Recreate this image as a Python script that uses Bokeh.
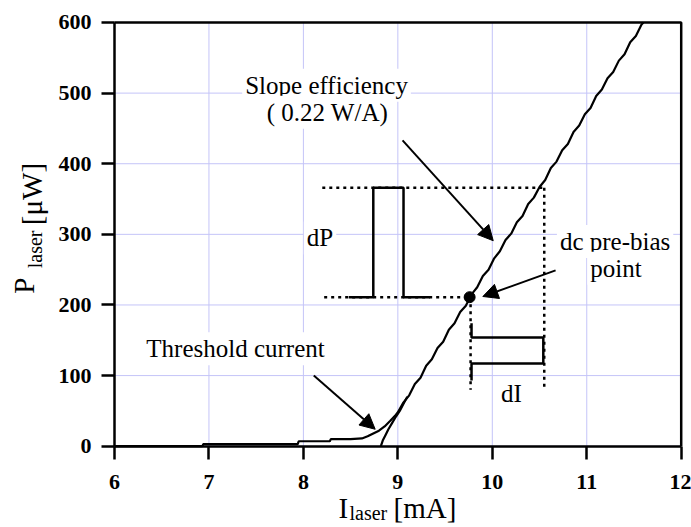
import math
from bokeh.plotting import figure
from bokeh.models import Label, Arrow, NormalHead, Range1d, FixedTicker
from bokeh.embed import file_html
from bokeh.resources import INLINE

# ---- data ----
x_ticks = [6, 7, 8, 9, 10, 11, 12]
y_ticks = [0, 100, 200, 300, 400, 500, 600]

# measured L-I curve (mA, uW)
curve_i = [6.00, 6.93, 6.94, 7.94, 7.95, 8.28, 8.29, 8.50, 8.62, 8.68, 8.74, 8.80, 8.86,
           8.92, 8.97, 9.00, 9.06, 9.12, 9.18, 9.24, 9.30, 9.36, 9.42, 9.48, 9.54, 9.60,
           9.66, 9.72, 9.78, 9.84, 9.90, 9.96, 10.02, 10.08, 10.14, 10.20, 10.26, 10.32,
           10.38, 10.44, 10.50, 10.56, 10.62, 10.68, 10.74, 10.80, 10.86, 10.92, 10.98,
           11.04, 11.10, 11.16, 11.22, 11.28, 11.34, 11.40, 11.46, 11.52, 11.58, 11.60]
curve_p = [0, 0, 3, 3, 7, 7, 10, 10, 11, 14, 18, 22, 28,
           36, 43, 48, 62, 72, 88, 97, 114, 123, 139, 148, 165, 174,
           190, 199, 215, 225, 241, 250, 266, 276, 292, 301, 317, 326,
           343, 352, 367, 377, 394, 403, 419, 428, 445, 454, 470,
           479, 496, 505, 521, 530, 546, 555, 572, 581, 597, 600]

# second trace starting at threshold
branch_i = [8.82, 8.84, 8.87, 8.90, 8.94, 8.98, 9.02, 9.06, 9.10]
branch_p = [0, 8, 16, 24, 33, 42, 50, 60, 70]

# dc pre-bias point
bias_i = [9.76]
bias_p = [211]

# modulation pulses
dp_pulse_i = [8.48, 8.74, 8.74, 9.06, 9.06, 9.34]
dp_pulse_p = [211, 211, 366, 366, 211, 211]
di_pulse_i = [9.78, 9.78, 10.54, 10.54, 9.78, 9.78]
di_pulse_p = [174, 154, 154, 117, 117, 93]

# dotted guide lines
top_guide_i = [8.20, 10.54]
top_guide_p = [366, 366]
low_guide_i = [8.22, 9.76]
low_guide_p = [211, 211]
vleft_guide_i = [9.77, 9.77]
vleft_guide_p = [211, 80]
vright_guide_i = [10.55, 10.55]
vright_guide_p = [366, 80]

SERIF = "Liberation Serif"
X0, X1 = x_ticks[0], x_ticks[-1]
Y0, Y1 = y_ticks[0], y_ticks[-1]

# The frame spans the whole canvas; the axes are pinned at I=6 and P=0 so that
# the axis titles (with subscripts) can be drawn as unclipped labels.
p = figure(width=691, height=527, output_backend="svg", toolbar_location=None,
           x_range=Range1d(4.793, 12.109), y_range=Range1d(-115.13, 631.15),
           min_border=0)
p.background_fill_color = "white"
p.border_fill_color = "white"
p.outline_line_color = None
p.grid.visible = False

p.xaxis.fixed_location = Y0
p.yaxis.fixed_location = X0
p.xaxis.bounds = (X0, X1)
p.yaxis.bounds = (Y0, Y1)
for ax, ticks in ((p.xaxis, x_ticks), (p.yaxis, y_ticks)):
    ax.ticker = FixedTicker(ticks=ticks)
    ax.axis_line_width = 2.5
    ax.axis_line_color = "black"
    ax.major_tick_line_width = 2.5
    ax.major_tick_line_color = "black"
    ax.major_tick_out = 13
    ax.major_tick_in = 0
    ax.minor_tick_line_color = None
    ax.major_label_text_font = SERIF
    ax.major_label_text_font_style = "bold"
    ax.major_label_text_font_size = "22px"
    ax.major_label_text_color = "black"
    ax.major_label_standoff = 10
p.xaxis.major_label_standoff = 16

GRID = "#c4c4f8"
# grid lines at the ticks
p.segment(x0=x_ticks, y0=[Y0] * len(x_ticks), x1=x_ticks, y1=[Y1] * len(x_ticks),
          line_color=GRID, line_width=1)
p.segment(x0=[X0] * len(y_ticks), y0=y_ticks, x1=[X1] * len(y_ticks), y1=y_ticks,
          line_color=GRID, line_width=1)

# guides
for gi, gp in ((top_guide_i, top_guide_p), (low_guide_i, low_guide_p),
               (vleft_guide_i, vleft_guide_p), (vright_guide_i, vright_guide_p)):
    p.line(gi, gp, line_color="black", line_width=2.5, line_dash="3 4")

# pulses
p.line(dp_pulse_i, dp_pulse_p, line_color="black", line_width=2.5)
p.line(di_pulse_i, di_pulse_p, line_color="black", line_width=2.5)

# curves
p.line(curve_i, curve_p, line_color="black", line_width=2.2)
p.line(branch_i, branch_p, line_color="black", line_width=2.2)
p.scatter(bias_i, bias_p, size=11, fill_color="black", line_color="black")

# frame: top and right edges
p.line([X0, X1, X1], [Y1, Y1, Y0], line_color="black", line_width=2.5)

# arrows
def arrow(x0, y0, x1, y1):
    p.add_layout(Arrow(end=NormalHead(size=15, fill_color="black", line_color="black"),
                       x_start=x0, y_start=y0, x_end=x1, y_end=y1,
                       line_color="black", line_width=2))

arrow(9.05, 433, 10.01, 291)
arrow(10.67, 249, 9.90, 212)
arrow(8.11, 100, 8.76, 24)

# annotation texts
def note(x, y, text, size="25px", align="center"):
    p.add_layout(Label(x=x, y=y, text=text, text_font=SERIF, text_font_size=size,
                       text_align=align, text_baseline="alphabetic", text_color="black",
                       background_fill_color="white", padding=3))

note(8.245, 511, "Slope efficiency")
note(8.255, 473, "( 0.22 W/A)")
note(7.281, 138, "Threshold current")
note(8.176, 295, "dP")
note(11.30, 290, "dc pre-bias")
note(11.31, 252, "point")
note(10.203, 75, "dI")

# axis titles (with subscripts)
def title(x, y, text, size, angle=0.0):
    p.add_layout(Label(x=x, y=y, text=text, text_font=SERIF, text_font_size=size,
                       text_align="left", text_baseline="alphabetic", text_color="black",
                       angle=angle))

title(8.372, -87, "I", "29px")
title(8.488, -95, "laser", "20px")
title(8.954, -87, "[mA]", "29px")

title(5.047, 216, "P", "29px", math.pi / 2)
title(5.153, 252, "laser", "20px", math.pi / 2)
title(5.122, 313, "[\u03bcW]", "29px", math.pi / 2)

open("out.html", "w").write(file_html(p, INLINE))
